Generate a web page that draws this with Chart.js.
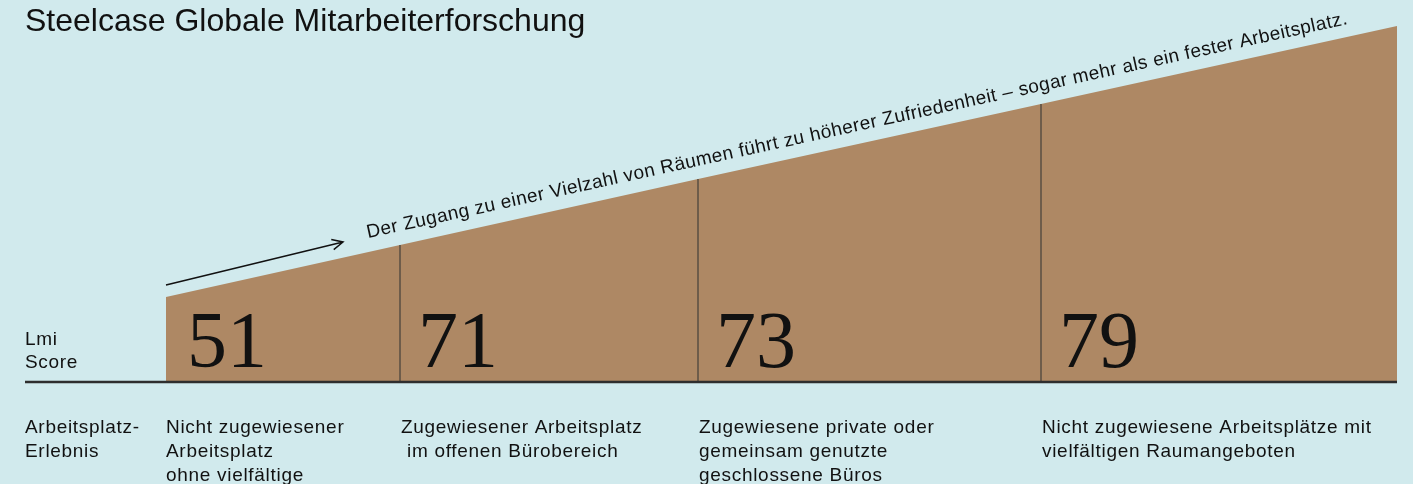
<!DOCTYPE html>
<html lang="de">
<head>
<meta charset="utf-8">
<title>Steelcase Globale Mitarbeiterforschung</title>
<script src="https://cdn.jsdelivr.net/npm/chart.js@4.4.1/dist/chart.umd.min.js"></script>
<style>
  body { margin: 0; background: #d1eaed; }
  canvas { display: block; }
</style>
</head>
<body>
<canvas id="chart" width="1413" height="484"></canvas>
<script>
const title = "Steelcase Globale Mitarbeiterforschung";
const axisLabel = ["Lmi", "Score"];
const rowLabel = ["Arbeitsplatz-", "Erlebnis"];
const categories = [
  ["Nicht zugewiesener", "Arbeitsplatz", "ohne vielfältige"],
  ["Zugewiesener Arbeitsplatz", " im offenen Bürobereich"],
  ["Zugewiesene private oder", "gemeinsam genutzte", "geschlossene Büros"],
  ["Nicht zugewiesene Arbeitsplätze mit", "vielfältigen Raumangeboten"]
];
const scores = [51, 71, 73, 79];
// edges of the segments along the baseline, and height of the wedge at each edge
const segmentEdges = [141, 375, 673, 1016, 1372];
const wedgeHeights = [85, 137, 203, 278, 356];
const slogan = "Der Zugang zu einer Vielzahl von Räumen führt zu höherer Zufriedenheit – sogar mehr als ein fester Arbeitsplatz.";

const wedgeColor = "#ae8864";
const dividerColor = "#6e5c4a";
const inkColor = "#111111";
const sans = "'Liberation Sans', Arial, sans-serif";

const wedgeData = segmentEdges.map((x, i) => ({ x: x, y: wedgeHeights[i] }));

// inner dividers between segments
const dividerSets = segmentEdges.slice(1, -1).map((x, i) => ({
  data: [{ x: x, y: 0 }, { x: x, y: wedgeHeights[i + 1] }],
  showLine: true,
  borderColor: dividerColor,
  borderWidth: 2,
  pointRadius: 0,
  fill: false,
  clip: false,
  order: 2
}));

const textPlugin = {
  id: "texts",
  afterDatasetsDraw(chart) {
    const ctx = chart.ctx;
    const xs = chart.scales.x;
    const ys = chart.scales.y;
    ctx.save();
    ctx.fillStyle = inkColor;
    ctx.textBaseline = "alphabetic";
    ctx.textAlign = "left";

    // title
    ctx.font = "32px " + sans;
    ctx.fillText(title, 25, 31);

    // left labels
    ctx.font = "19px " + sans;
    ctx.letterSpacing = "0.7px";
    axisLabel.forEach((t, i) => ctx.fillText(t, 25, 345 + i * 23));
    rowLabel.forEach((t, i) => ctx.fillText(t, 25, 433 + i * 24));

    // category labels under each segment
    categories.forEach((lines, c) => {
      const x0 = xs.getPixelForValue(segmentEdges[c]);
      lines.forEach((t, i) => ctx.fillText(t, x0 + (c === 0 ? 0 : 1), 433 + i * 24));
    });
    ctx.letterSpacing = "0px";

    // score numbers
    ctx.font = "80px 'Liberation Serif', 'Times New Roman', serif";
    scores.forEach((s, c) => {
      const x0 = xs.getPixelForValue(segmentEdges[c]);
      ctx.fillText(String(s), x0 + (c === 0 ? 21 : 18), ys.getPixelForValue(15));
    });

    // arrow
    const ax1 = xs.getPixelForValue(141), ay1 = ys.getPixelForValue(97);
    const ax2 = xs.getPixelForValue(318), ay2 = ys.getPixelForValue(140);
    const ang = Math.atan2(ay2 - ay1, ax2 - ax1);
    ctx.strokeStyle = inkColor;
    ctx.lineWidth = 1.5;
    ctx.beginPath();
    ctx.moveTo(ax1, ay1);
    ctx.lineTo(ax2, ay2);
    ctx.moveTo(ax2 - 12 * Math.cos(ang - 0.45), ay2 - 12 * Math.sin(ang - 0.45));
    ctx.lineTo(ax2, ay2);
    ctx.lineTo(ax2 - 12 * Math.cos(ang + 0.45), ay2 - 12 * Math.sin(ang + 0.45));
    ctx.stroke();

    // slogan along the slope
    ctx.translate(368, 238);
    ctx.rotate(Math.atan2(47 - 237, 1238 - 368));
    ctx.font = "19px " + sans;
    ctx.letterSpacing = "0.45px";
    ctx.fillText(slogan, 0, 0);
    ctx.restore();
  }
};

new Chart(document.getElementById("chart"), {
  type: "scatter",
  data: {
    datasets: [
      {
        data: wedgeData,
        showLine: true,
        fill: "origin",
        backgroundColor: wedgeColor,
        borderColor: wedgeColor,
        borderWidth: 0,
        pointRadius: 0,
        clip: false,
        order: 3
      },
      ...dividerSets,
      {
        data: [{ x: 0, y: 0 }, { x: segmentEdges[segmentEdges.length - 1], y: 0 }],
        showLine: true,
        borderColor: "#2e2e2e",
        borderWidth: 2.5,
        pointRadius: 0,
        clip: false,
        order: 1
      }
    ]
  },
  options: {
    responsive: false,
    animation: false,
    layout: { padding: { left: 25, right: 16, top: 0, bottom: 102 } },
    scales: {
      x: { type: "linear", display: false, min: 0, max: 1372 },
      y: { type: "linear", display: false, min: 0, max: 382 }
    },
    plugins: { legend: { display: false }, tooltip: { enabled: false } }
  },
  plugins: [textPlugin]
});
</script>
</body>
</html>
